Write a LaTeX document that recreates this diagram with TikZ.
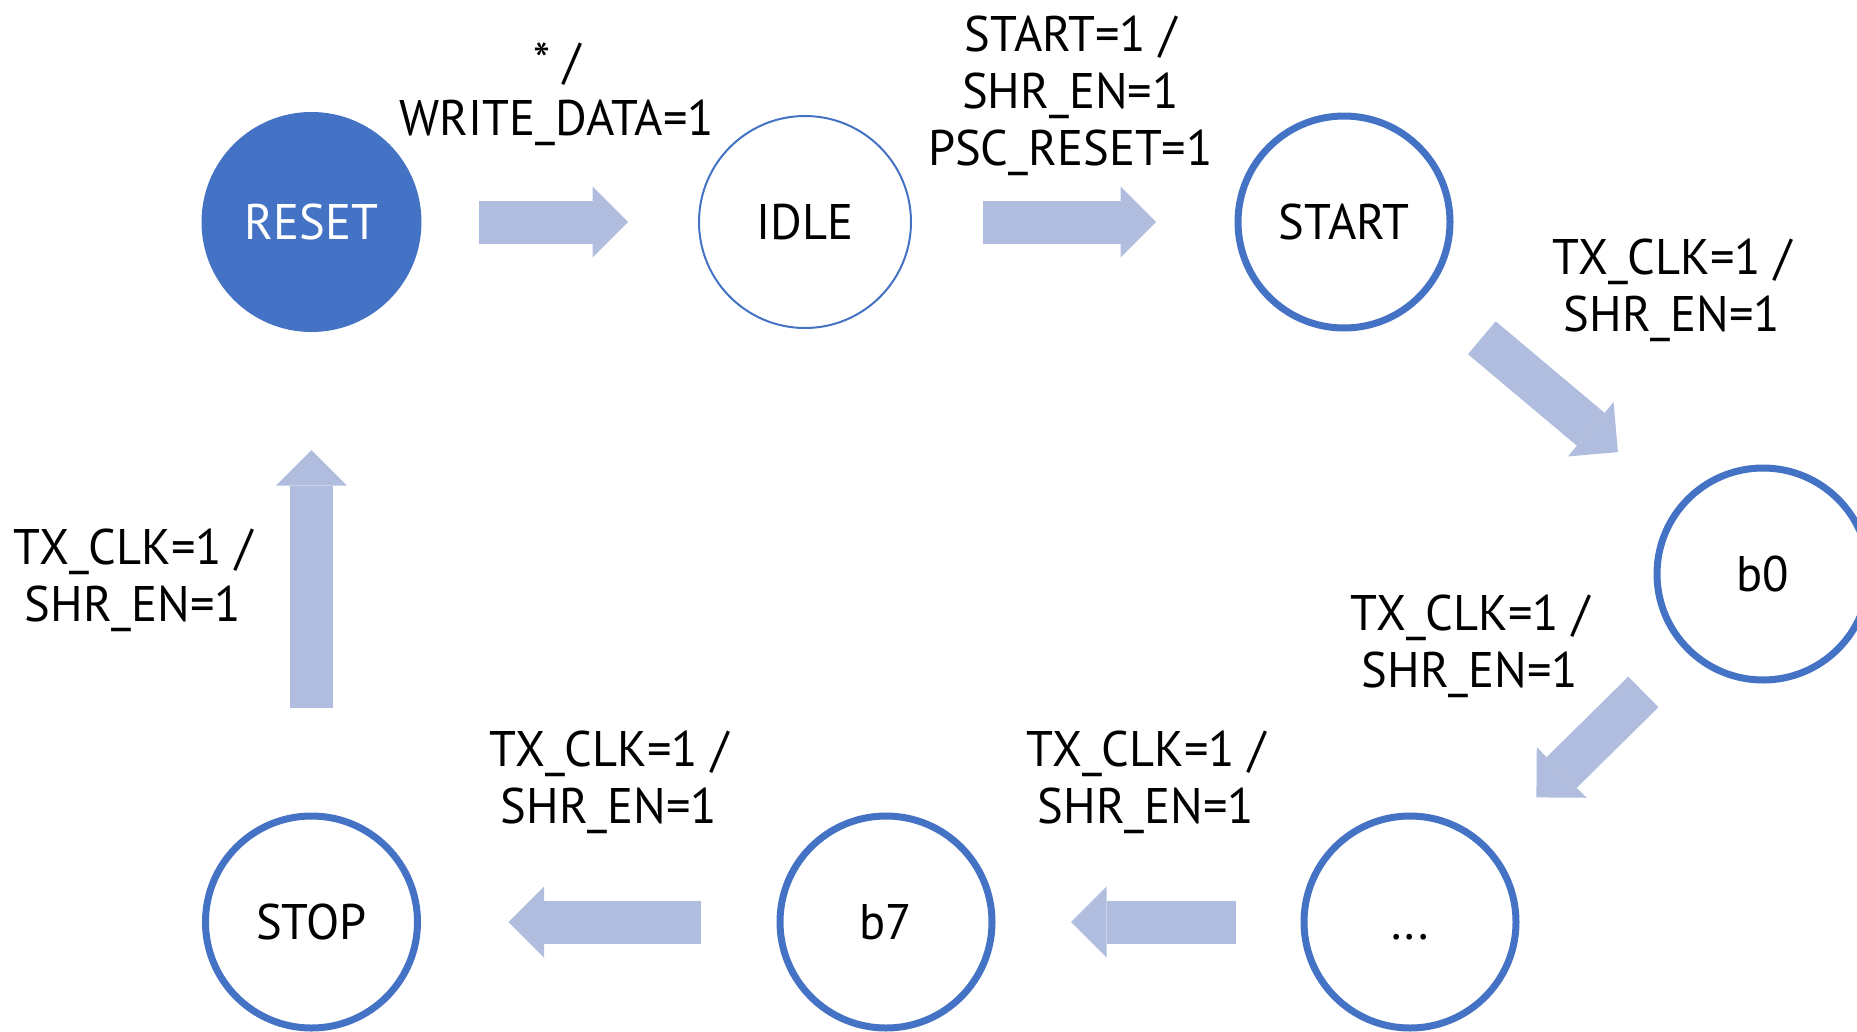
\documentclass[tikz,border=0pt]{standalone}
\usepackage{fontspec}
\setmainfont[FakeStretch=0.97]{PT Sans}
\usetikzlibrary{arrows.meta}
\definecolor{stateblue}{HTML}{4472C4}
\definecolor{arrowblue}{HTML}{B0BDDF}
\tikzset{
  state/.style={circle,draw=stateblue,line width=7pt,minimum size=212pt,
    inner sep=0pt,outer sep=0pt,text height=35pt,text depth=0pt},
  trans/.style={draw=arrowblue,line width=43pt,
    -{Triangle[length=35.5pt,width=71pt,line width=0pt]}},
  lbl/.style={align=center,inner sep=0pt}
}
\begin{document}
\begin{tikzpicture}[x=1pt,y=-1pt,font=\fontsize{50}{57}\selectfont]
      \useasboundingbox (0,0) rectangle (1857,1031);
      \draw
        (311.5,222) node[state,fill=stateblue,draw=none,minimum size=220pt,text=white] (reset){RESET}
        (805,222) node[state,line width=2pt] (idle){IDLE}
        (1344,222) node[state] (start){START}
        (1763,574) node[state] (b0){b0}
        (1410,922) node[state] (dots){...}
        (886,922) node[state] (b7){b7}
        (311.5,922) node[state] (stop){STOP};
      \begin{scope}[trans]
        \draw[shorten <=57.5pt,shorten >=71pt] (reset) to (idle);
        \draw[shorten <=72pt,shorten >=82pt] (idle) to (start);
        \draw[shorten <=74pt,shorten >=83.5pt] (start) to (b0);
        \draw[shorten <=62pt,shorten >=71.5pt] (b0) to (dots);
        \draw[shorten <=68pt,shorten >=79pt] (dots) to (b7);
        \draw[shorten <=79pt,shorten >=91pt] (b7) to (stop);
        \draw[shorten <=108pt,shorten >=118pt] (stop) to (reset);
      \end{scope}
      \draw
        (557,94.5) node[lbl] (l0){* /\\WRITE\_DATA=1}
        (1070.5,96) node[lbl] (l1){START=1 /\\SHR\_EN=1\\PSC\_RESET=1}
        (1672,290.5) node[lbl] (l2){TX\_CLK=1 /\\SHR\_EN=1}
        (1470,646.5) node[lbl] (l3){TX\_CLK=1 /\\SHR\_EN=1}
        (1146,782) node[lbl] (l4){TX\_CLK=1 /\\SHR\_EN=1}
        (609,782) node[lbl] (l5){TX\_CLK=1 /\\SHR\_EN=1}
        (133,580.5) node[lbl] (l6){TX\_CLK=1 /\\SHR\_EN=1};
    \end{tikzpicture}
\end{document}
